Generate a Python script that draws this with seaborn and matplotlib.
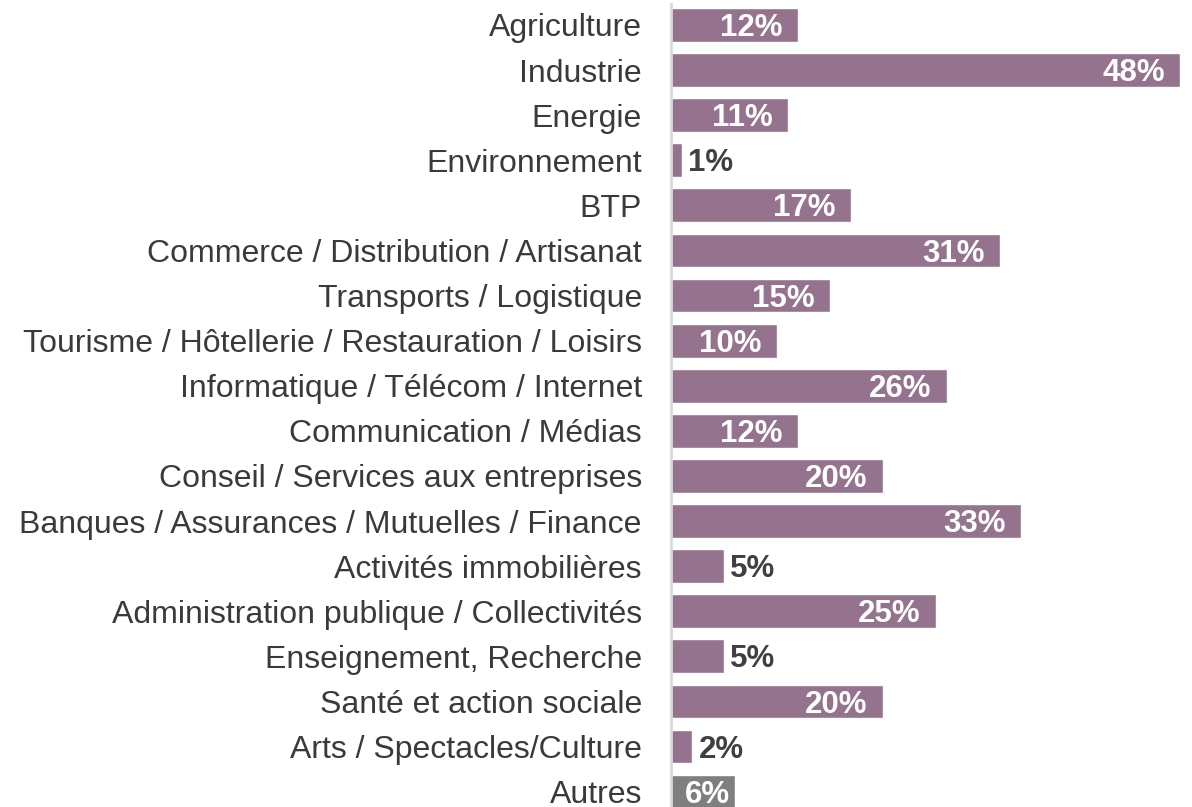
import os
import matplotlib
matplotlib.use("Agg")
import matplotlib.pyplot as plt
from matplotlib import font_manager as fm
import seaborn as sns
import pandas as pd

categories = [
    "Agriculture",
    "Industrie",
    "Energie",
    "Environnement",
    "BTP",
    "Commerce / Distribution / Artisanat",
    "Transports / Logistique",
    "Tourisme / Hôtellerie / Restauration / Loisirs",
    "Informatique / Télécom / Internet",
    "Communication / Médias",
    "Conseil / Services aux entreprises",
    "Banques / Assurances / Mutuelles / Finance",
    "Activités immobilières",
    "Administration publique / Collectivités",
    "Enseignement, Recherche",
    "Santé et action sociale",
    "Arts / Spectacles/Culture",
    "Autres",
]
values = [12, 48, 11, 1, 17, 31, 15, 10, 26, 12, 20, 33, 5, 25, 5, 20, 2, 6]

BAR = "#95738F"
OTHER = "#7F7F7F"
colors = [OTHER if c == "Autres" else BAR for c in categories]

df = pd.DataFrame({"secteur": categories, "part": values})

sns.set_theme(style="white")


def find_font(filename):
    for path in fm.findSystemFonts():
        if os.path.basename(path) == filename:
            return path
    return None


regular_path = find_font("LiberationSans-Regular.ttf")
bold_path = find_font("LiberationSans-Bold.ttf")
if regular_path:
    reg_prop = fm.FontProperties(fname=regular_path, size=23)
else:
    reg_prop = fm.FontProperties(family="DejaVu Sans", size=21)
if bold_path:
    bold_prop = fm.FontProperties(fname=bold_path, size=22.5)
else:
    bold_prop = fm.FontProperties(family="DejaVu Sans", weight="bold", size=20)

fig = plt.figure(figsize=(11.92, 8.07), dpi=100)
ax = fig.add_axes([671 / 1192, 0, (1180 - 671) / 1192, 1])

sns.barplot(data=df, x="part", y="secteur", hue="secteur", palette=colors,
            order=categories, hue_order=categories, legend=False,
            width=0.75, saturation=1, ax=ax, orient="h")

ax.set_xlim(0, 48)
ax.set_ylim(17.34, -0.554)
ax.set_xlabel("")
ax.set_ylabel("")
ax.set_xticks([])
ax.tick_params(axis="y", length=0, pad=21)
for lbl in ax.get_yticklabels():
    lbl.set_fontproperties(reg_prop)
    lbl.set_color("#3A3A3A")

for side in ("top", "right", "bottom"):
    ax.spines[side].set_visible(False)
ax.spines["left"].set_color("#D9D9D9")
ax.spines["left"].set_linewidth(2)
ax.spines["left"].set_bounds(-0.47, 17.34)

# value labels: white inside the longer bars, dark just past the short ones
for i, v in enumerate(values):
    label = f"{v}%"
    if v >= 6:
        offset = (-11 if v > 6 else -3.5, -8)
        ax.annotate(label, xy=(v, i), xytext=offset, textcoords="offset points",
                    ha="right", va="baseline", color="white",
                    fontproperties=bold_prop)
    else:
        ax.annotate(label, xy=(v, i), xytext=(4.5, -8), textcoords="offset points",
                    ha="left", va="baseline", color="#404040",
                    fontproperties=bold_prop)

fig.savefig("out.png", dpi=100)
